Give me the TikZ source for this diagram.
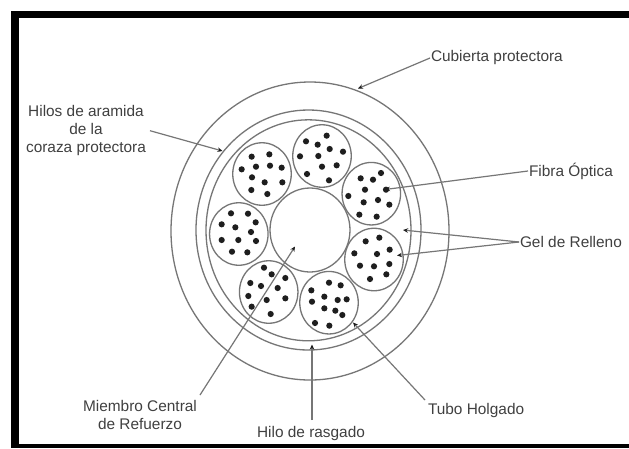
\documentclass[tikz,border=0pt]{standalone}
\usepackage{fontspec}
\setmainfont{Liberation Sans}
\usetikzlibrary{shapes.geometric,arrows.meta}
\definecolor{ringc}{HTML}{767676}
\definecolor{textc}{HTML}{404040}
\definecolor{dotc}{HTML}{1E1E1E}
\tikzset{
  ring/.style={ellipse,draw=ringc,line width=1.3pt,inner sep=0pt,outer sep=0pt},
  tubo/.style={ring,minimum width=58.5pt,minimum height=62.5pt},
  lab/.style={text=textc,inner sep=0pt,outer sep=1pt,align=center,font=\fontsize{15.4}{18.4}\selectfont},
  lead/.style={draw=ringc,line width=1.2pt,-{Stealth[length=5pt,width=4.5pt,color=dotc]}},
  fibra/.style={fill=dotc,draw=none}
}
\newcommand{\fibrasA}[1]{\foreach \zx/\zy in {#1}{\fill[fibra] ({190+\zx/3},{60+\zy/3}) circle (3.1pt);}}
\newcommand{\fibrasB}[1]{\foreach \zx/\zy in {#1}{\fill[fibra] ({190+\zx/3},{220+\zy/3}) circle (3.1pt);}}
\begin{document}
\begin{tikzpicture}[x=1pt,y=-1pt]
\useasboundingbox (0,0) rectangle (629,448);
\fill[white] (0,0) rectangle (629,448);
% black frame
\fill[black] (11,10.5) rectangle (629,18);
\fill[black] (11,10.5) rectangle (18.5,448);
\fill[black] (11,444) rectangle (629,448);
% cable rings
\node[ring,minimum width=278pt,minimum height=298pt] (cubierta) at (310,231) {};
\node[ring,minimum width=225pt,minimum height=240pt] (aramida) at (308.5,230) {};
\node[ring,minimum width=205pt,minimum height=221pt] (interior) at (308.5,230.3) {};
\node[ring,minimum width=80pt,minimum height=84pt] (central) at (310,230) {};
% loose tubes
\node[tubo] (tuboA) at (262,174) {};
\node[tubo] (tuboB) at (322,156) {};
\node[tubo] (tuboC) at (371.3,193.7) {};
\node[tubo] (tuboD) at (238.8,234) {};
\node[tubo] (tuboE) at (374,259.5) {};
\node[tubo] (tuboF) at (329,302.7) {};
\node[tubo] (tuboG) at (268.7,292) {};
% fibres
\fibrasA{185/290,238/283,198/320,240/317,275/323,155/328,186/352,224/367,277/367,184/390,232/402}
\fibrasA{410/227,348/244,383/254,419/267,459/275,330/289,385/288,440/316,396/320,351/342,417/361}
\fibrasA{573/339,512/355,549/359,525/389,588/389,475/408,564/420,521/427,598/434,508/464,560/470}
\fibrasB{123/-20,174/-19,95/13,136/22,197/7,183/36,95/60,145/60,198/63,126/95,172/97}
\fibrasB{568/53,527/64,599/89,493/100,561/102,598/132,510/137,552/139,589/163,540/177}
\fibrasB{417/188,452/196,364/211,403/230,443/240,470/238,366/245,403/265,436/272,457/285,375/309,418/317}
\fibrasB{222/143,245/163,286/174,181/189,213/198,263/204,175/228,230/240,286/235,185/260,242/282}
% labels
\node[lab,anchor=west] (lcub) at (430,58) {Cubierta protectora};
\node[lab] (lhil) at (86,130.5) {Hilos de aramida\\de la\\coraza protectora};
\node[lab,anchor=west] (lfib) at (528,171) {Fibra Óptica};
\node[lab,anchor=west] (lgel) at (519,242) {Gel de Relleno};
\node[lab] (lmie) at (140,415) {Miembro Central\\de Refuerzo};
\node[lab] (lras) at (311,433.5) {Hilo de rasgado};
\node[lab,anchor=west] (ltub) at (427,411) {Tubo Holgado};
% connector ends
\coordinate (tipCub) at (358,88.5);
\coordinate (tipHil) at (222.5,151);
\coordinate (tipFib) at (385,189.5);
\coordinate (tipGelA) at (403,230);
\coordinate (tipGelB) at (397,255.5);
\coordinate (tipMie) at (295,246.5);
\coordinate (tipRas) at (312,344.5);
\coordinate (tipTub) at (353,322.5);
\coordinate (startHil) at (150,130.7);
\coordinate (startMie) at (200,395);
\coordinate (startRas) at (312,420);
\coordinate (startTub) at (425,400);
% connectors
\draw[lead] (lcub.west) -- (tipCub);
\draw[lead] (startHil) -- (tipHil);
\draw[lead] (lfib.west) -- (tipFib);
\draw[lead] (lgel.west) -- (tipGelA);
\draw[lead] (lgel.west) -- (tipGelB);
\draw[lead] (startMie) -- (tipMie);
\draw[lead] (startRas) -- (tipRas);
\draw[lead] (startTub) -- (tipTub);
\end{tikzpicture}
\end{document}
